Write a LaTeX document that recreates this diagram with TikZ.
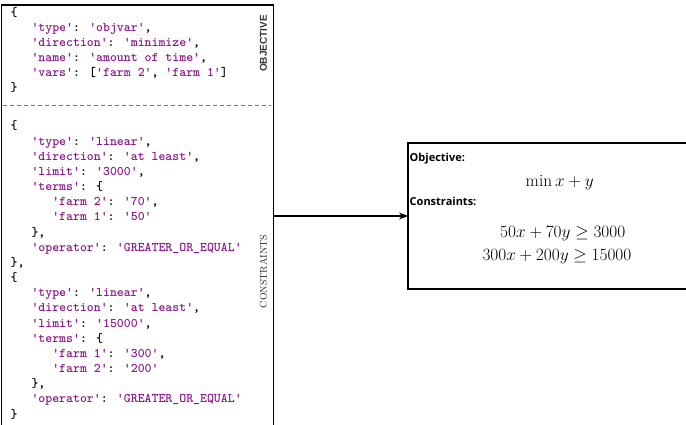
\documentclass[tikz,border=0pt]{standalone}
\usepackage{fontspec}
\usetikzlibrary{arrows.meta}
\newfontfamily\labelsans{Liberation Sans}
\newfontfamily\opensans{Open Sans}
\definecolor{strc}{RGB}{138,22,138}
\newcommand\codefont{\ttfamily\bfseries\fontsize{13.2}{15}\selectfont}
\newcommand\sq[1]{\textcolor{strc}{\textquotesingle#1\textquotesingle}}
\newcommand\cl[4]{\node[codeline] (#1) at ({10.5+20.8*#2},#3) {#4};}
\tikzset{
  codeline/.style={anchor=base west, inner sep=0pt, font=\codefont, text=black},
  boxstyle/.style={draw, anchor=north west, inner sep=0pt, outer sep=0pt},
  sidelabel/.style={rotate=90, inner sep=0pt},
  headlabel/.style={anchor=base west, inner sep=0pt, font=\opensans\bfseries\fontsize{11}{13}\selectfont},
  mathtext/.style={anchor=base west, inner sep=0pt, font=\LARGE},
  arrowline/.style={line width=1.3pt, -{Stealth[length=9pt,width=7pt]}},
  dashline/.style={dash pattern=on 4pt off 3pt, line width=0.9pt, draw=black!55}
}
\begin{document}
\begin{tikzpicture}[x=1pt,y=-1pt]
\useasboundingbox (0,0) rectangle (686,425);
\clip (0,0) rectangle (686,425);
% boxes
\node[boxstyle, line width=1.2pt, minimum width=272pt, minimum height=425pt] (left) at (1.5,5) {};
\node[boxstyle, line width=1.5pt, minimum width=320pt, minimum height=146pt] (right) at (408,143) {};
\coordinate (dl) at (3,105);
\coordinate (dr) at (271,105);
\draw[dashline] (dl) -- (dr);
% objective block
\cl{a0}{0}{17}{\{}
\cl{a1}{1}{31.9}{\sq{type}: \sq{objvar},}
\cl{a2}{1}{46.8}{\sq{direction}: \sq{minimize},}
\cl{a3}{1}{61.7}{\sq{name}: \sq{amount of time},}
\cl{a4}{1}{76.6}{\sq{vars}: [\sq{farm 2}, \sq{farm 1}]}
\cl{a5}{0}{91.5}{\}}
% constraints blocks
\cl{b0}{0}{130}{\{}
\cl{b1}{1}{145.16}{\sq{type}: \sq{linear},}
\cl{b2}{1}{160.32}{\sq{direction}: \sq{at least},}
\cl{b3}{1}{175.48}{\sq{limit}: \sq{3000},}
\cl{b4}{1}{190.64}{\sq{terms}: \{}
\cl{b5}{2}{205.8}{\sq{farm 2}: \sq{70},}
\cl{b6}{2}{220.96}{\sq{farm 1}: \sq{50}}
\cl{b7}{1}{236.12}{\},}
\cl{b8}{1}{251.28}{\sq{operator}: \sq{GREATER\_OR\_EQUAL}}
\cl{b9}{0}{266.44}{\},}
\cl{c0}{0}{281.6}{\{}
\cl{c1}{1}{296.76}{\sq{type}: \sq{linear},}
\cl{c2}{1}{311.92}{\sq{direction}: \sq{at least},}
\cl{c3}{1}{327.08}{\sq{limit}: \sq{15000},}
\cl{c4}{1}{342.24}{\sq{terms}: \{}
\cl{c5}{2}{357.4}{\sq{farm 1}: \sq{300},}
\cl{c6}{2}{372.56}{\sq{farm 2}: \sq{200}}
\cl{c7}{1}{387.72}{\},}
\cl{c8}{1}{402.88}{\sq{operator}: \sq{GREATER\_OR\_EQUAL}}
\cl{c9}{0}{418.04}{\}}
% side labels
\node[sidelabel, font=\labelsans\bfseries\fontsize{10}{12}\selectfont, text=black!80] (objlab) at (263.5,43.5) {OBJECTIVE};
\node[sidelabel, font=\rmfamily\fontsize{9.9}{12}\selectfont, text=black!85] (conlab) at (263.5,271.5) {CONSTRAINTS};
% right box content
\node[headlabel] (objhead) at (409.5,162) {Objective:};
\node[mathtext] (minobj) at (525.5,187) {$\min x + y$};
\node[headlabel] (conhead) at (409.5,205) {Constraints:};
\node[mathtext] (eq1) at (500,237.5) {$50x + 70y \geq 3000$};
\node[mathtext] (eq2) at (482.3,260.5) {$300x + 200y \geq 15000$};
% arrow
\draw[arrowline] (right.west -| left.east) -- (right.west);
\end{tikzpicture}
\end{document}
